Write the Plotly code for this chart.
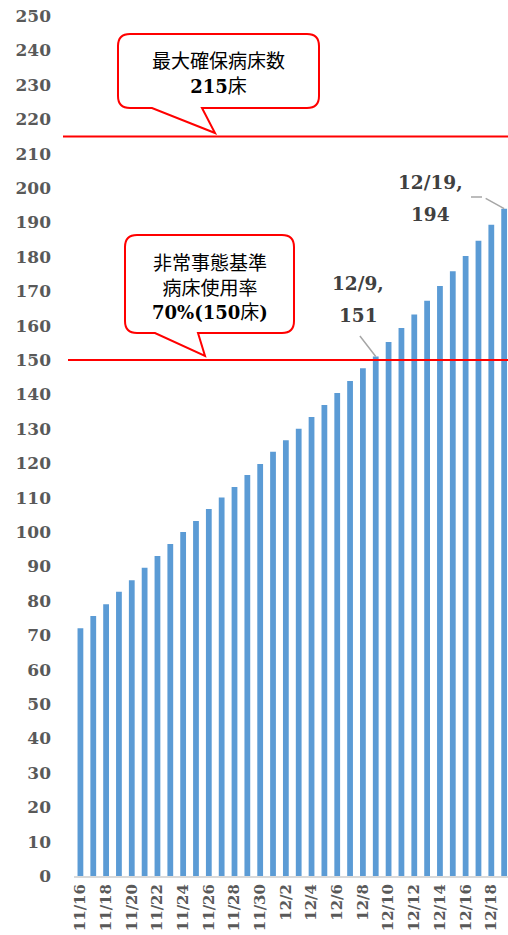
import plotly.graph_objects as go

# dates and occupied beds
dates = ['11/16', '11/17', '11/18', '11/19', '11/20', '11/21', '11/22', '11/23',
         '11/24', '11/25', '11/26', '11/27', '11/28', '11/29', '11/30',
         '12/1', '12/2', '12/3', '12/4', '12/5', '12/6', '12/7', '12/8', '12/9',
         '12/10', '12/11', '12/12', '12/13', '12/14', '12/15', '12/16', '12/17',
         '12/18', '12/19']
beds = [72, 75.6, 79, 82.6, 86, 89.6, 93, 96.5, 100, 103.2, 106.7, 110, 113.1,
        116.6, 119.8, 123.3, 126.7, 130, 133.4, 136.9, 140.4, 143.9, 147.6, 151,
        155.2, 159.3, 163.2, 167.2, 171.5, 175.8, 180.2, 184.7, 189.3, 194]
tick_dates = dates[::2]
y_ticks = list(range(0, 251, 10))

max_beds = 215
emergency_beds = 150

W, H = 508, 935
L, R, T, B = 74, 0, 16, 59
PW, PH = W - L - R, H - T - B
X0, Y0 = L, H - B  # plot-area origin in pixels

SERIF = 'DejaVu Serif, Noto Sans CJK JP'
GRAY = '#595959'
LABEL = '#404040'


def px(x):
    return (x - X0) / PW


def py(y):
    return (Y0 - y) / PH


def callout(x0, y0, x1, y1, bx0, bx1, tx, ty, r=12):
    pts = [
        ('M', (x0 + r, y0)), ('L', (x1 - r, y0)), ('Q', (x1, y0), (x1, y0 + r)),
        ('L', (x1, y1 - r)), ('Q', (x1, y1), (x1 - r, y1)),
        ('L', (bx1, y1)), ('L', (tx, ty)), ('L', (bx0, y1)),
        ('L', (x0 + r, y1)), ('Q', (x0, y1), (x0, y1 - r)),
        ('L', (x0, y0 + r)), ('Q', (x0, y0), (x0 + r, y0)),
    ]
    path = ''
    for p in pts:
        cmd = p[0]
        coords = ' '.join(f'{px(a):.5f},{py(b):.5f}' for a, b in p[1:])
        path += f'{cmd} {coords} '
    return dict(type='path', xref='paper', yref='paper', path=path + 'Z',
                line=dict(color='#FF0000', width=2), fillcolor='white')


def text(x, y, s, color='black', size=19):
    return dict(xref='paper', yref='paper', x=px(x), y=py(y), text=s,
                xanchor='center', yanchor='middle', showarrow=False,
                font=dict(family=SERIF, size=size, color=color))


def bnum(s):
    # bold serif digits, a touch smaller than the gothic kanji
    return f'<b><span style="font-size:18px">{s}</span></b>'


fig = go.Figure(go.Bar(
    x=dates, y=beds,
    marker=dict(color='#5B9BD5', line=dict(width=0)),
    hoverinfo='x+y'
))

shapes = [
    dict(type='line', xref='paper', yref='y', x0=px(63), x1=1, y0=max_beds, y1=max_beds,
         line=dict(color='#FF0000', width=2)),
    dict(type='line', xref='paper', yref='y', x0=px(68), x1=1, y0=emergency_beds, y1=emergency_beds,
         line=dict(color='#FF0000', width=2)),
    callout(118, 34, 319, 108, 152, 202, 215, 133),
    callout(125, 235, 294, 333, 155, 198, 205, 356),
    dict(type='line', xref='paper', yref='paper', x0=px(471), x1=px(482), y0=py(197), y1=py(197),
         line=dict(color='#A6A6A6', width=1.5)),
]

i9 = dates.index('12/9')
i19 = dates.index('12/19')

annotations = [
    text(218, 74, '最大確保病床数<br>' + bnum(max_beds) + '床'),
    text(210, 287, '非常事態基準<br>病床使用率<br>'
         + bnum(f'70%({emergency_beds}') + '床' + bnum(')')),
    text(358, 283, f'<b>{dates[i9]},</b>', LABEL, 18.5),
    text(358, 316, f'<b>{beds[i9]:.0f}</b>', LABEL, 18.5),
    text(430, 183, f'<b>{dates[i19]},</b>', LABEL, 18.5),
    text(430, 215, f'<b>{beds[i19]:.0f}</b>', LABEL, 18.5),
    dict(x=i9, y=beds[i9], text='', showarrow=True, arrowhead=0, arrowwidth=1.5,
         arrowcolor='#A6A6A6', ax=-17, ay=-22),
    dict(x=i19, y=beds[i19], text='', showarrow=True, arrowhead=0, arrowwidth=1.5,
         arrowcolor='#A6A6A6', ax=-20, ay=-11),
]

fig.update_layout(
    width=W, height=H,
    margin=dict(l=L, r=R, t=T, b=B),
    plot_bgcolor='white', paper_bgcolor='white',
    bargap=0.55,
    showlegend=False,
    shapes=shapes,
    annotations=annotations,
)

fig.update_xaxes(
    type='category', range=[-0.5, 33.3], automargin=False,
    tickmode='array', tickvals=tick_dates, ticktext=tick_dates,
    tickangle=-90, showgrid=False, showline=True, linecolor='#D9D9D9', linewidth=2,
    ticks='', ticklabeloverflow='allow',
    tickfont=dict(family=SERIF, size=15, color=GRAY, weight='bold'),
)
fig.update_yaxes(
    range=[0, 250], tickmode='array', tickvals=y_ticks, automargin=False,
    showgrid=False, zeroline=False, showline=False, ticks='',
    ticklabelstandoff=22, ticklabeloverflow='allow',
    tickfont=dict(family=SERIF, size=17, color=GRAY, weight='bold'),
)

# drop the default page margin so the figure fills the window exactly
fig.write_html('out.html', config={'displayModeBar': False},
               post_script="document.body.style.margin='0';document.body.style.overflow='hidden';")
